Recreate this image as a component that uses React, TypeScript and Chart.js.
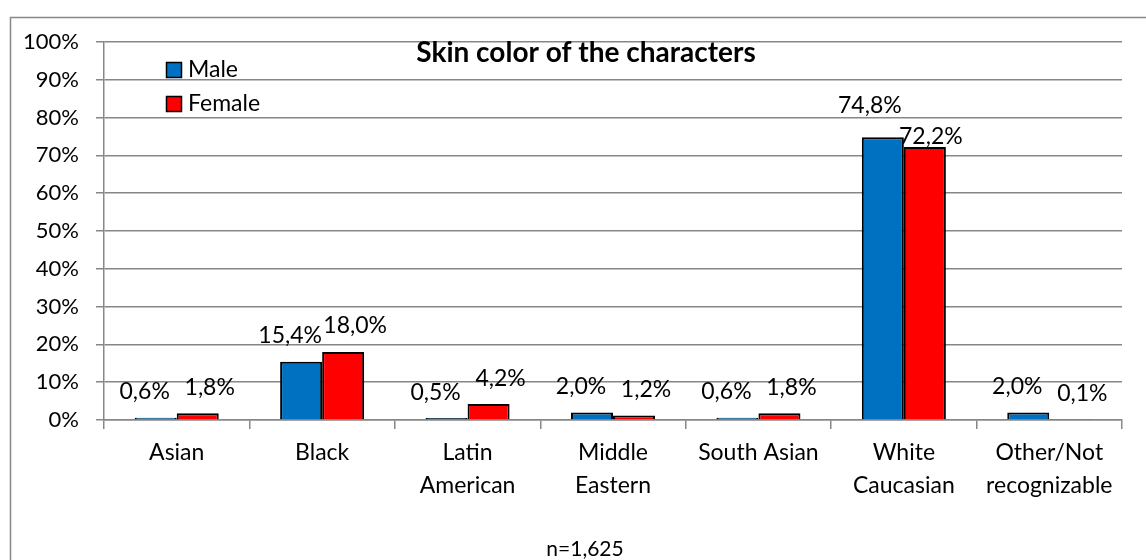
import React, { useEffect, useRef } from "react";
import { Chart, registerables } from "chart.js";

Chart.register(...registerables);

const categories: string[][] = [
  ["Asian"],
  ["Black"],
  ["Latin", "American"],
  ["Middle", "Eastern"],
  ["South Asian"],
  ["White", "Caucasian"],
  ["Other/Not", "recognizable"],
];
const seriesNames = ["Male", "Female"];
const seriesColors = ["#0070C0", "#FF0000"];
const maleValues = [0.6, 15.4, 0.5, 2.0, 0.6, 74.8, 2.0];
const femaleValues = [1.8, 18.0, 4.2, 1.2, 1.8, 72.2, 0.1];
const yTickMin = 0;
const yTickMax = 100;
const yTickStep = 10;
const chartTitle = "Skin color of the characters";
const sampleNote = "n=1,625";

const FONT = "Lato, 'Noto Sans', sans-serif";
const GRID = "#878787";

const fmt = (v: number) => v.toFixed(1).replace(".", ",") + "%";

const framePlugin = {
  id: "frame",
  beforeDraw(chart: any) {
    const ctx = chart.ctx;
    ctx.save();
    ctx.strokeStyle = GRID;
    ctx.lineWidth = 1.5;
    ctx.strokeRect(10.5, 17.5, 1200, 600);
    ctx.restore();
  },
};

// label placement style: default offsets, plus nudges (dx, dy per series) for crowded categories
const labelStyle = {
  dx: [-11, 12],
  dy: -26,
  nudges: { "White,Caucasian": [[-2, -6], [-6, 15]] } as Record<string, number[][]>,
};

const labelPlugin = {
  id: "barLabels",
  afterDatasetsDraw(chart: any) {
    const ctx = chart.ctx;
    ctx.save();
    ctx.font = `23px ${FONT}`;
    ctx.fillStyle = "#000";
    ctx.textAlign = "center";
    ctx.textBaseline = "middle";
    chart.data.datasets.forEach((ds: any, di: number) => {
      const meta = chart.getDatasetMeta(di);
      meta.data.forEach((bar: any, i: number) => {
        const key = String(chart.data.labels[i]);
        const nudge = labelStyle.nudges[key]?.[di] ?? [0, 0];
        ctx.fillText(
          fmt(ds.data[i]),
          bar.x + labelStyle.dx[di] + nudge[0],
          bar.y + labelStyle.dy + nudge[1]
        );
      });
    });
    ctx.restore();
  },
};

const textPlugin = {
  id: "legendTitle",
  afterDraw(chart: any) {
    const ctx = chart.ctx;
    ctx.save();
    ctx.font = `bold 28px ${FONT}`;
    ctx.fillStyle = "#000";
    ctx.textAlign = "center";
    ctx.textBaseline = "middle";
    ctx.fillText(chartTitle, 586, 53);
    ctx.font = `21px ${FONT}`;
    ctx.fillText(sampleNote, 585, 549);
    ctx.font = `23px ${FONT}`;
    ctx.textAlign = "left";
    chart.data.datasets.forEach((ds: any, di: number) => {
      const y = 62 + di * 34;
      ctx.fillStyle = ds.backgroundColor;
      ctx.fillRect(166, y, 15, 15);
      ctx.strokeStyle = "#000";
      ctx.lineWidth = 1.5;
      ctx.strokeRect(166.5, y + 0.5, 15, 15);
      ctx.fillStyle = "#000";
      ctx.fillText(ds.label, 188, y + 8);
    });
    ctx.restore();
  },
};

export default function App() {
  const ref = useRef<HTMLCanvasElement | null>(null);
  useEffect(() => {
    if (!ref.current) return;
    const chart = new Chart(ref.current, {
      type: "bar",
      data: {
        labels: categories,
        datasets: [
          {
            label: seriesNames[0],
            data: maleValues,
            backgroundColor: seriesColors[0],
            borderColor: "#000",
            borderWidth: 2,
            barPercentage: 1,
            categoryPercentage: 0.578,
          },
          {
            label: seriesNames[1],
            data: femaleValues,
            backgroundColor: seriesColors[1],
            borderColor: "#000",
            borderWidth: 2,
            barPercentage: 1,
            categoryPercentage: 0.578,
          },
        ],
      },
      options: {
        responsive: false,
        animation: false,
        layout: { padding: { left: 0, top: 42, right: 24, bottom: 0 } },
        plugins: {
          legend: { display: false },
          title: { display: false },
          tooltip: { enabled: false },
        },
        scales: {
          x: {
            grid: {
              drawOnChartArea: false,
              drawTicks: true,
              tickLength: 9,
              color: GRID,
              lineWidth: 1.5,
            },
            border: { display: true, color: GRID, width: 1.5 },
            ticks: {
              color: "#000",
              padding: 7,
              maxRotation: 0,
              autoSkip: false,
              font: { family: FONT, size: 23, lineHeight: 1.43 },
            },
            afterFit: (scale: any) => {
              scale.height = 140;
            },
          },
          y: {
            min: yTickMin,
            max: yTickMax,
            grid: { color: GRID, lineWidth: 1.5, tickLength: 8 },
            border: { display: true, color: GRID, width: 1.5 },
            ticks: {
              stepSize: yTickStep,
              color: "#000",
              padding: 17,
              font: { family: FONT, size: 22 },
              callback: (v: any) => v + "%",
            },
            afterFit: (scale: any) => {
              scale.width = 104;
            },
          },
        },
      },
      plugins: [framePlugin, labelPlugin, textPlugin],
    });
    return () => chart.destroy();
  }, []);

  return (
    <div
      style={{
        position: "fixed",
        left: 0,
        top: 0,
        width: 1146,
        height: 560,
        overflow: "hidden",
        background: "#fff",
      }}
    >
      <canvas ref={ref} width={1146} height={560} style={{ display: "block" }} />
    </div>
  );
}
